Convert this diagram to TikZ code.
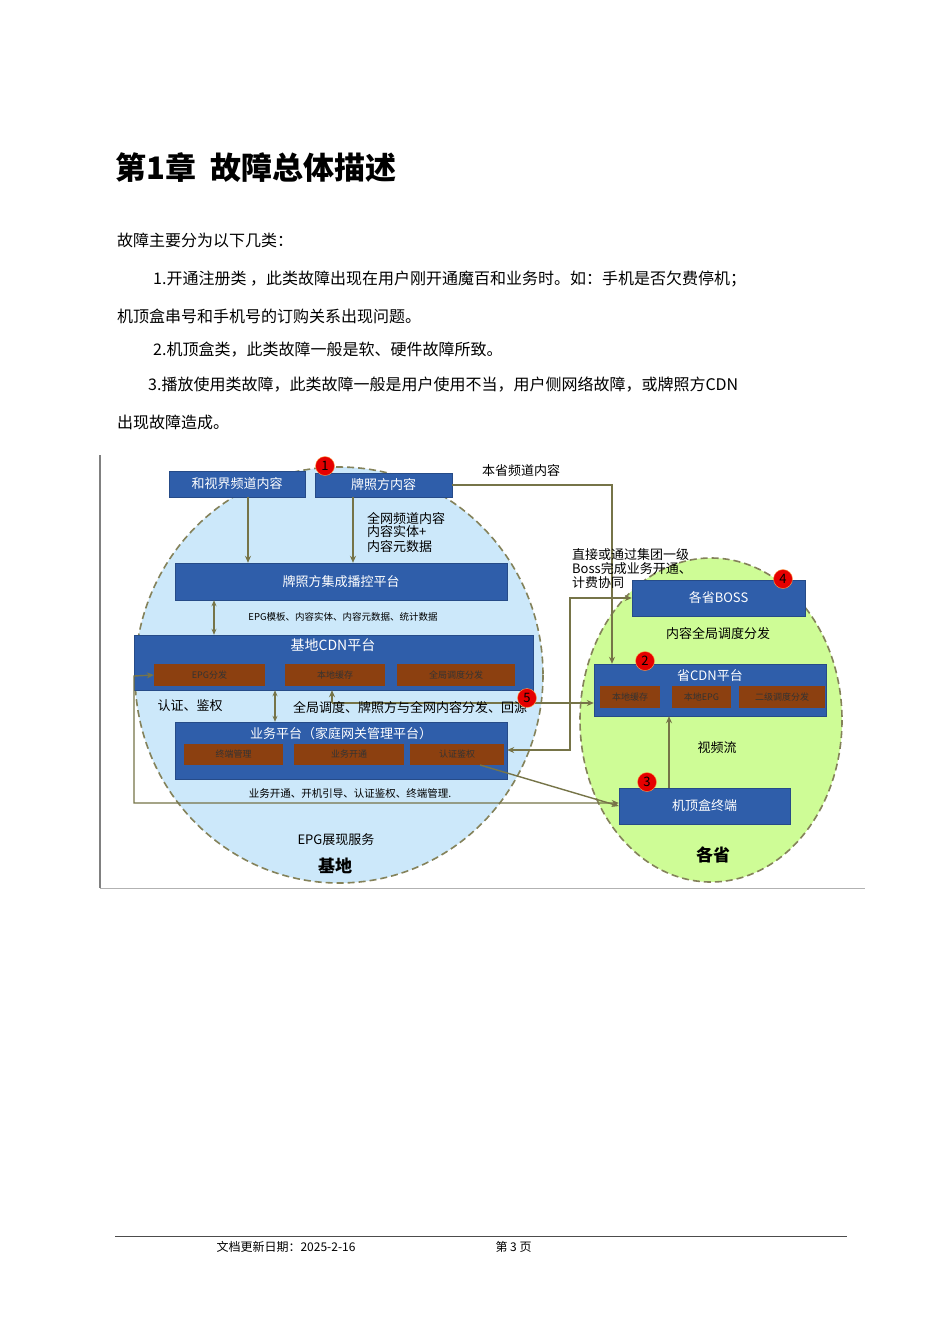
\documentclass[tikz,border=0pt]{standalone}
\usepackage{fontspec}
\setmainfont{Noto Sans CJK SC}
\usetikzlibrary{arrows.meta}
\definecolor{bx}{RGB}{47,94,170}
\definecolor{br}{RGB}{140,64,16}
\definecolor{ol}{RGB}{118,116,72}
\definecolor{lb}{RGB}{204,232,250}
\definecolor{lg}{RGB}{206,252,150}
\tikzset{
 bluebox/.style={fill=bx,draw=bx!80!black,text=white,font=\fontsize{13}{14}\selectfont,inner sep=0pt},
 subbox/.style={fill=br,text=black!80,font=\fontsize{9}{10}\selectfont,inner sep=0pt},
 badge/.style={circle,fill=red!90!black,draw=orange!70,minimum size=19pt,inner sep=0pt,font=\fontsize{13}{13}\selectfont},
 conn/.style={draw=ol,line width=1.4pt,-{Stealth[length=7pt,width=6pt]}},
 lbl/.style={font=\fontsize{13}{14}\selectfont,inner sep=0pt},
 body/.style={font=\fontsize{16}{18}\selectfont,anchor=west,inner sep=0pt},
 circ/.style={draw=ol!90,dashed,dash pattern=on 7pt off 4pt,line width=1.6pt}
}
\begin{document}
\begin{tikzpicture}[x=1pt,y=-1pt]
\useasboundingbox[fill=white] (0,0) rectangle (950,1344);
\node[anchor=west,inner sep=0pt,font=\fontsize{31}{32}\selectfont\bfseries] (title) at (115,168) {第1章\hspace{14pt}故障总体描述};
\node[body] (p1) at (117,240) {故障主要分为以下几类：};
\node[body] (p2) at (153,279) {1.开通注册类\ ，此类故障出现在用户刚开通魔百和业务时。如：手机是否欠费停机；};
\node[body] (p3) at (117,316) {机顶盒串号和手机号的订购关系出现问题。};
\node[body] (p4) at (153,350) {2.机顶盒类，此类故障一般是软、硬件故障所致。};
\node[body] (p5) at (148,385) {3.播放使用类故障，此类故障一般是用户使用不当，用户侧网络故障，或牌照方CDN};
\node[body] (p6) at (117,422) {出现故障造成。};
% frame
\draw[gray,line width=1.5pt] (100,455) -- (100,888);
\draw[gray!60,line width=1pt] (100,888) -- (865,888);
% ellipses
\path[fill=lb,circ] (339,675) ellipse [x radius=204,y radius=208];
\path[fill=lg,circ] (711,720) ellipse [x radius=131,y radius=162];
% boxes
\node[bluebox,minimum width=136pt,minimum height=26pt] (hsj) at (237,484) {和视界频道内容};
\node[bluebox,minimum width=137pt,minimum height=24pt] (pzf) at (383.5,485) {牌照方内容};
\node[bluebox,minimum width=332pt,minimum height=37pt] (jc) at (341,581.5) {牌照方集成播控平台};
\node[bluebox,minimum width=399pt,minimum height=55pt] (cdn) at (333.5,662.5) {};
\node[text=white,font=\fontsize{14}{14}\selectfont] (cdnt) at (333,645) {基地CDN平台};
\node[subbox,minimum width=111pt,minimum height=22pt] (epg) at (209.5,675) {EPG分发};
\node[subbox,minimum width=100pt,minimum height=22pt] (bdhc) at (335,675) {本地缓存};
\node[subbox,minimum width=118pt,minimum height=22pt] (qjdd) at (456,675) {全局调度分发};
\node[bluebox,minimum width=332pt,minimum height=57pt] (yw) at (341,750.5) {};
\node[text=white,font=\fontsize{13}{14}\selectfont] (ywt) at (341,734) {业务平台（家庭网关管理平台）};
\node[subbox,minimum width=99pt,minimum height=21pt] (zdgl) at (233.5,754.5) {终端管理};
\node[subbox,minimum width=110pt,minimum height=21pt] (ywkt) at (349,754.5) {业务开通};
\node[subbox,minimum width=94pt,minimum height=21pt] (rzjq) at (457,754.5) {认证鉴权};
\node[bluebox,minimum width=173pt,minimum height=36pt] (boss) at (718.5,598) {各省BOSS};
\node[bluebox,minimum width=232pt,minimum height=52pt] (scdn) at (710,690) {};
\node[text=white,font=\fontsize{13}{14}\selectfont] (scdnt) at (710,676) {省CDN平台};
\node[subbox,minimum width=60pt,minimum height=22pt] (s1) at (630,697) {本地缓存};
\node[subbox,minimum width=59pt,minimum height=22pt] (s2) at (701.5,697) {本地EPG};
\node[subbox,minimum width=86pt,minimum height=22pt] (s3) at (782,697) {二级调度分发};
\node[bluebox,minimum width=171pt,minimum height=36pt] (stb) at (704.5,806) {机顶盒终端};
% connectors
\draw[conn] (hsj.south -| 248,0) -- (jc.north -| 248,0);
\draw[conn] (pzf.south -| 353,0) -- (jc.north -| 353,0);
\coordinate (c1) at (612,485);
\draw[conn] (pzf.east) -- (c1) -- (scdn.north -| c1);
\draw[conn,{Stealth[length=6pt,width=5pt]}-{Stealth[length=6pt,width=5pt]},line width=1.2pt] (jc.south -| 214,0) -- (cdn.north -| 214,0);
\draw[conn,{Stealth[length=6pt,width=5pt]}-{Stealth[length=6pt,width=5pt]},line width=1.2pt] (cdn.south -| 275,0) -- (yw.north -| 275,0);
\coordinate (c2) at (332,703);
\draw[conn] (c2) -- (cdn.south -| c2);
\draw[conn] (c2) -- (scdn.west |- c2);
\coordinate (c3) at (134,803);
\coordinate (c4) at (134,676);
\draw[conn,{Stealth[length=7pt,width=6pt]}-{Stealth[length=7pt,width=6pt]}] (epg.west) -- (c4) -- (c3) -- (stb.west |- c3);
\draw[conn] (480,765) -- (stb.west);
\coordinate (c5) at (570,598);
\coordinate (c6) at (570,750);
\draw[conn,{Stealth[length=7pt,width=6pt]}-{Stealth[length=7pt,width=6pt]}] (boss.west |- c5) -- (c5) -- (c6) -- (yw.east |- c6);
\draw[conn,-{Stealth[length=7pt,width=6pt]}] (stb.north -| 669,0) -- (scdn.south -| 669,0);
% labels
\node[lbl] (l1) at (521,471) {本省频道内容};
\node[lbl,anchor=west,align=left] (l2) at (367,532) {全网频道内容\\内容实体+\\内容元数据};
\node[font=\fontsize{9.5}{10}\selectfont] (l3) at (343,617) {EPG模板、内容实体、内容元数据、统计数据};
\node[lbl] (l4) at (190,706) {认证、鉴权};
\node[lbl,anchor=west] (l5) at (293,708) {全局调度、牌照方与全网内容分发、回源};
\node[font=\fontsize{10.5}{11}\selectfont] (l6) at (350,794) {业务开通、开机引导、认证鉴权、终端管理.};
\node[lbl,anchor=west,align=left] (l7) at (572,569) {直接或通过集团一级\\Boss完成业务开通、\\计费协同};
\node[lbl] (l8) at (718,633) {内容全局调度分发};
\node[lbl] (l9) at (717,748) {视频流};
\node[lbl] (l10) at (336,840) {EPG展现服务};
\node[font=\fontsize{17}{18}\selectfont\bfseries] (l11) at (335,866) {基地};
\node[font=\fontsize{17}{18}\selectfont\bfseries] (l12) at (713,855) {各省};
% badges
\node[badge] (b1) at (325,466) {1};
\node[badge] (b2) at (645,661) {2};
\node[badge] (b3) at (647,782) {3};
\node[badge] (b4) at (783,579) {4};
\node[badge] (b5) at (527,698) {5};
% footer
\draw[black!70,line width=0.8pt] (115,1236) -- (847,1236);
\node[font=\fontsize{12}{13}\selectfont,anchor=west] (f1) at (213,1247) {文档更新日期：2025-2-16};
\node[font=\fontsize{12}{13}\selectfont,anchor=west] (f2) at (492,1247) {第 3 页};
\end{tikzpicture}
\end{document}
